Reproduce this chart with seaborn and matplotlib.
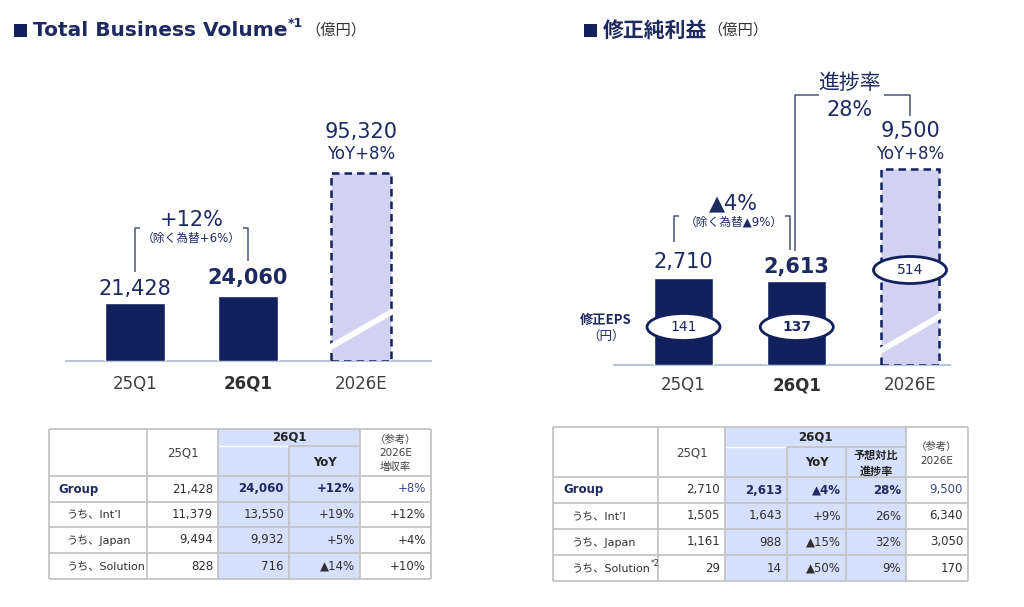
import numpy as np
import pandas as pd
import matplotlib
matplotlib.use("Agg")
import matplotlib.pyplot as plt
import seaborn as sns
from matplotlib.patches import Rectangle, Ellipse

# ---------------- data ----------------
periods = ["25Q1", "26Q1", "2026E"]
current_period = "26Q1"

tbv_values = [21428, 24060, 95320]
tbv_growth = "+12%"
tbv_growth_fx = "（除く為替+6%）"
tbv_forecast_yoy = "YoY+8%"

ni_values = [2710, 2613, 9500]
ni_growth = "▲4%"
ni_growth_fx = "（除く為替▲9%）"
ni_progress_label = "進捗率"
ni_progress = "28%"
ni_forecast_yoy = "YoY+8%"
eps_values = [141, 137, 514]

row_labels = ["Group", "うち、Int’l", "うち、Japan", "うち、Solution"]
tbv_25q1 = [21428, 11379, 9494, 828]
tbv_26q1 = [24060, 13550, 9932, 716]
tbv_yoy = ["+12%", "+19%", "+5%", "▲14%"]
tbv_2026e_growth = ["+8%", "+12%", "+4%", "+10%"]

ni_25q1 = [2710, 1505, 1161, 29]
ni_26q1 = [2613, 1643, 988, 14]
ni_yoy = ["▲4%", "+9%", "▲15%", "▲50%"]
ni_progress_rate = ["28%", "26%", "32%", "9%"]
ni_2026e = [9500, 6340, 3050, 170]

# ---------------- style ----------------
NAVY = "#13205e"
TNAVY = "#1d2a62"
LIGHT = "#d2d1f2"
GRAY = "#404040"
SHADE = "#d4e0fc"
GRID = "#c4c4c4"
AXIS = "#b8c6d4"
CJK = ["Noto Sans CJK JP", "DejaVu Sans"]

sns.set_style("white")
plt.rcParams["font.family"] = ["DejaVu Sans", "Noto Sans CJK JP"]

W, H = 1024, 607
fig = plt.figure(figsize=(W / 100, H / 100), dpi=100)
ov = fig.add_axes([0, 0, 1, 1])
ov.set_xlim(0, W)
ov.set_ylim(H, 0)
ov.axis("off")
ov.set_facecolor("none")


def make_axes(x0, x1, base, c0, step):
    ax = fig.add_axes([x0 / W, (H - base) / H, (x1 - x0) / W, base / H])
    ax.set_facecolor("none")
    return ax, ((x0 - c0) / step, (x1 - c0) / step)


def bar_chart(ax, xlim, values, cap, upp, width, label_gaps, pad):
    display = [min(v, cap) for v in values]
    df = pd.DataFrame({"period": periods, "value": display})
    sns.barplot(data=df, x="period", y="value", hue="period",
                palette=[NAVY, NAVY, LIGHT], width=width, saturation=1,
                legend=False, ax=ax, zorder=2)
    fc = ax.patches[2]
    fc.set_edgecolor(NAVY)
    fc.set_linewidth(1.8)
    fc.set_linestyle((0, (3, 2)))
    ax.set_xlim(*xlim)
    ax.set_ylim(0, ax.get_position().height * H * upp)
    for s in ["top", "left", "right"]:
        ax.spines[s].set_visible(False)
    ax.spines["bottom"].set_color(AXIS)
    ax.spines["bottom"].set_linewidth(1.5)
    ax.spines["bottom"].set_zorder(1)
    ax.set_yticks([])
    ax.set_xlabel("")
    ax.set_ylabel("")
    ax.tick_params(axis="x", length=0, pad=pad)
    for t in ax.get_xticklabels():
        t.set_fontsize(12)
        t.set_color(GRAY)
        if t.get_text() == current_period:
            t.set_fontweight("bold")
            t.set_color("#303030")
    # value labels for actuals
    for i in range(2):
        bold = periods[i] == current_period
        ax.text(i, values[i] + label_gaps[i] * upp, f"{values[i]:,}",
                ha="center", va="baseline", fontsize=15, color=TNAVY,
                fontweight="bold" if bold else "normal", zorder=4)
    # slash marking the broken forecast bar
    hw = width / 2 + 0.02
    ax.plot([2 - hw, 2 + hw], [13 * upp, 50 * upp], color="white", lw=4.2,
            solid_capstyle="butt", zorder=3)
    return display


def P(px, upp):
    return px * upp


# ---------------- left chart: Total Business Volume ----------------
L_UPP = 369.4
axL, xlimL = make_axes(66, 431, 361, 135, 113)
dispL = bar_chart(axL, xlimL, tbv_values, 69400, L_UPP, 0.53, [8, 12], 10)
capL = dispL[2]
axL.text(2, capL + P(14, L_UPP), tbv_forecast_yoy, ha="center", va="baseline",
         fontsize=12, color=TNAVY)
axL.text(2, capL + P(35, L_UPP), f"{tbv_values[2]:,}", ha="center",
         va="baseline", fontsize=15, color=TNAVY)
topL = tbv_values[1] + P(68, L_UPP)
kL = dict(color="#4a5580", lw=1.1, solid_capstyle="butt")
axL.plot([0, 0, 0.04], [tbv_values[0] + P(31, L_UPP), topL, topL], **kL)
axL.plot([0.96, 1, 1], [topL, topL, tbv_values[1] + P(35, L_UPP)], **kL)
axL.text(0.5, topL + P(8, L_UPP), tbv_growth, ha="center", va="center",
         fontsize=15, color=TNAVY)
axL.text(0.5, topL - P(10, L_UPP), tbv_growth_fx, ha="center", va="center",
         fontsize=8.5, color=TNAVY)

# ---------------- right chart: 修正純利益 ----------------
R_UPP = 31.15
axR, xlimR = make_axes(614, 950, 365, 683.5, 113.25)
dispR = bar_chart(axR, xlimR, ni_values, 6105, R_UPP, 0.52, [10, 8], 8)
capR = dispR[2]
axR.text(2, capR + P(10, R_UPP), ni_forecast_yoy, ha="center", va="baseline",
         fontsize=12, color=TNAVY)
axR.text(2, capR + P(32, R_UPP), f"{ni_values[2]:,}", ha="center",
         va="baseline", fontsize=15, color=TNAVY)
# YoY bracket
topR = ni_values[0] + P(62, R_UPP)
axR.plot([-0.084, -0.084, -0.044], [ni_values[0] + P(36, R_UPP), topR, topR], **kL)
axR.plot([0.90, 0.94, 0.94], [topR, topR, ni_values[1] + P(31, R_UPP)], **kL)
axR.text(0.445, topR + P(13, R_UPP), ni_growth, ha="center", va="center",
         fontsize=15, color=TNAVY)
axR.text(0.445, topR - P(6, R_UPP), ni_growth_fx, ha="center", va="center",
         fontsize=8.5, color=TNAVY)
# progress bracket
topP = capR + P(74, R_UPP)
axR.plot([1.196, 0.983, 0.983], [topP, topP, ni_values[1] + P(30, R_UPP)], **kL)
axR.plot([1.77, 2.0, 2.0], [topP, topP, capR + P(53, R_UPP)], **kL)
axR.text(1.47, topP + P(12, R_UPP), ni_progress_label, ha="center",
         va="center", fontsize=15, color=TNAVY, family=CJK)
axR.text(1.47, topP - P(15, R_UPP), ni_progress, ha="center", va="center",
         fontsize=15, color=TNAVY)
# EPS ellipses
eps_y = [P(38, R_UPP), P(38, R_UPP), P(95, R_UPP)]
for i, (e, y) in enumerate(zip(eps_values, eps_y)):
    axR.add_patch(Ellipse((i, y), 0.645, P(27, R_UPP), facecolor="white",
                          edgecolor=NAVY, lw=2, zorder=5))
    axR.text(i, y, f"{e}", ha="center", va="center", fontsize=10,
             color=TNAVY, zorder=6,
             fontweight="bold" if periods[i] == current_period else "normal")
axR.text(-0.684, P(45, R_UPP), "修正EPS", ha="center", va="center",
         fontsize=9.5, fontweight="bold", color=TNAVY, family=CJK, clip_on=False)
axR.text(-0.684, P(29, R_UPP), "（円）", ha="center", va="center",
         fontsize=9, color=TNAVY, family=CJK, clip_on=False)

# ---------------- titles ----------------
def title(x_sq, y, main, sup, fam):
    ov.add_patch(Rectangle((x_sq, y - 6.5), 13, 13, color=NAVY, lw=0))
    t = ov.text(x_sq + 19, y, main, fontsize=15 if fam else 14.5,
                fontweight="bold", color=TNAVY, va="center", ha="left",
                family=fam if fam else ["DejaVu Sans"])
    if sup:
        ov.annotate(sup, xy=(1, 0.85), xycoords=t, xytext=(0.5, 0),
                    textcoords="offset points", va="center", ha="left",
                    fontsize=9, fontweight="bold", color=TNAVY)
    ov.annotate("（億円）", xy=(1, 0.5), xycoords=t, xytext=(13 if sup else 0, 0),
                textcoords="offset points", va="center", ha="left",
                fontsize=11, color="#333333", family=CJK)


title(14, 30.5, "Total Business Volume", "*1", None)
title(584, 30.5, "修正純利益", None, CJK)

# ---------------- tables ----------------
FS = 8.5
FS_SUB = 8.0


def hl(y, x0, x1, c=GRID, lw=1.3):
    ov.plot([x0, x1], [y, y], color=c, lw=lw, solid_capstyle="butt")


def vl(x, y0, y1, c=GRID, lw=1.3):
    ov.plot([x, x], [y0, y1], color=c, lw=lw, solid_capstyle="butt")


def row_label(x, y, r, sup=None):
    t = ov.text(x + (9 if r == 0 else 17), y, row_labels[r], ha="left",
                va="center", fontsize=FS if r == 0 else FS_SUB,
                fontweight="bold" if r == 0 else "normal",
                color=TNAVY if r == 0 else "#303030")
    if sup:
        ov.annotate(sup, xy=(1, 0.9), xycoords=t, xytext=(0.3, 0),
                    textcoords="offset points", fontsize=5.5, va="center",
                    ha="left", color="#303030")


# left table
lx = [49, 147, 218, 289, 360, 431]
ly = [429, 446, 476, 502, 527, 553, 579]
ov.add_patch(Rectangle((lx[2], ly[0]), lx[4] - lx[2], ly[-1] - ly[0],
                       color=SHADE, lw=0))
hl(ly[1], lx[2], lx[3], c="white", lw=1.0)
hl(ly[1], lx[3], lx[4])
for y in ly[2:-1]:
    hl(y, lx[0], lx[-1])
for x in [lx[1], lx[2], lx[4]]:
    vl(x, ly[0], ly[-1])
vl(lx[3], ly[1], ly[-1])
hl(ly[0], lx[0], lx[-1]); hl(ly[-1], lx[0], lx[-1])
vl(lx[0], ly[0], ly[-1]); vl(lx[-1], ly[0], ly[-1])

ov.text((lx[1] + lx[2]) / 2, 453, periods[0], ha="center", va="center",
        fontsize=FS, color=GRAY)
ov.text((lx[2] + lx[4]) / 2, 437.5, periods[1], ha="center", va="center",
        fontsize=FS, fontweight="bold", color="#222222")
ov.text((lx[3] + lx[4]) / 2, 462, "YoY", ha="center", va="center",
        fontsize=FS, fontweight="bold", color="#222222")
for txt, y in zip(["（参考）", "2026E", "増収率"], [440, 453, 466.5]):
    ov.text((lx[4] + lx[5]) / 2, y, txt, ha="center", va="center",
            fontsize=7.5, color=GRAY)
for r in range(4):
    y = (ly[r + 2] + ly[r + 3]) / 2
    g = r == 0
    row_label(lx[0], y, r)
    ov.text(lx[2] - 5, y, f"{tbv_25q1[r]:,}", ha="right", va="center",
            fontsize=FS, color="#303030")
    ov.text(lx[3] - 5, y, f"{tbv_26q1[r]:,}", ha="right", va="center",
            fontsize=FS, color=TNAVY if g else "#303030",
            fontweight="bold" if g else "normal")
    ov.text(lx[4] - 5, y, tbv_yoy[r], ha="right", va="center",
            fontsize=FS, color=TNAVY if g else "#303030",
            fontweight="bold" if g else "normal")
    ov.text(lx[5] - 5, y, tbv_2026e_growth[r], ha="right", va="center",
            fontsize=FS, color="#3a4a8a" if g else "#303030")

# right table
rx = [553, 658, 725, 787, 846, 906, 968]
ry = [427, 447, 477, 503, 529, 555, 581]
ov.add_patch(Rectangle((rx[2], ry[0]), rx[5] - rx[2], ry[-1] - ry[0],
                       color=SHADE, lw=0))
hl(ry[1], rx[2], rx[3], c="white", lw=1.0)
hl(ry[1], rx[3], rx[5])
for y in ry[2:-1]:
    hl(y, rx[0], rx[-1])
for x in [rx[1], rx[2], rx[5]]:
    vl(x, ry[0], ry[-1])
vl(rx[3], ry[1], ry[-1]); vl(rx[4], ry[1], ry[-1])
hl(ry[0], rx[0], rx[-1]); hl(ry[-1], rx[0], rx[-1])
vl(rx[0], ry[0], ry[-1]); vl(rx[-1], ry[0], ry[-1])

ov.text((rx[1] + rx[2]) / 2, 453, periods[0], ha="center", va="center",
        fontsize=FS, color=GRAY)
ov.text((rx[2] + rx[5]) / 2, 437.5, periods[1], ha="center", va="center",
        fontsize=FS, fontweight="bold", color="#222222")
ov.text((rx[3] + rx[4]) / 2, 463, "YoY", ha="center", va="center",
        fontsize=FS, fontweight="bold", color="#222222")
for txt, y in zip(["予想対比", "進捗率"], [455, 471]):
    ov.text((rx[4] + rx[5]) / 2, y, txt, ha="center", va="center",
            fontsize=8, fontweight="bold", color="#222222", family=CJK)
for txt, y in zip(["（参考）", "2026E"], [447, 460.5]):
    ov.text((rx[5] + rx[6]) / 2, y, txt, ha="center", va="center",
            fontsize=7.5, color=GRAY)
for r in range(4):
    y = (ry[r + 2] + ry[r + 3]) / 2
    g = r == 0
    row_label(rx[0] + 1, y, r, sup="*2" if r == 3 else None)
    ov.text(rx[2] - 5, y, f"{ni_25q1[r]:,}", ha="right", va="center",
            fontsize=FS, color="#303030")
    ov.text(rx[3] - 5, y, f"{ni_26q1[r]:,}", ha="right", va="center",
            fontsize=FS, color=TNAVY if g else "#303030",
            fontweight="bold" if g else "normal")
    ov.text(rx[4] - 5, y, ni_yoy[r], ha="right", va="center",
            fontsize=FS, color=TNAVY if g else "#303030",
            fontweight="bold" if g else "normal")
    ov.text(rx[5] - 5, y, ni_progress_rate[r], ha="right", va="center",
            fontsize=FS, color=TNAVY if g else "#303030",
            fontweight="bold" if g else "normal")
    ov.text(rx[6] - 5, y, f"{ni_2026e[r]:,}", ha="right", va="center",
            fontsize=FS, color="#3a4a8a" if g else "#303030")

fig.savefig("out.png", dpi=100)
